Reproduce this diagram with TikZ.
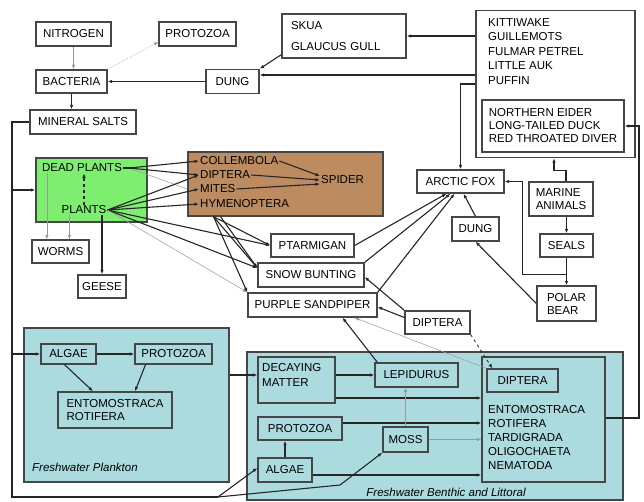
\documentclass[tikz,border=0pt]{standalone}
\usepackage{fontspec}
\setmainfont{Liberation Sans}
\usetikzlibrary{arrows.meta,positioning}

\definecolor{tundragreen}{RGB}{126,238,112}
\definecolor{soilbrown}{RGB}{188,140,96}
\definecolor{pondblue}{RGB}{172,219,223}
\definecolor{boxline}{RGB}{70,70,70}

\tikzset{
  box/.style={draw=boxline, line width=1.3pt, fill=white, inner sep=2pt,
    font=\fontsize{11.5}{13}\selectfont},
  area/.style={draw=boxline, line width=1.3pt},
  txt/.style={inner sep=1pt, font=\fontsize{11.5}{13}\selectfont},
  habitat/.style={inner sep=1pt, font=\fontsize{11.5}{13}\selectfont\itshape},
  feed/.style={->, line width=1.1pt, draw=black!85},
  faint/.style={->, line width=0.5pt, draw=black!40},
}

\begin{document}
\begin{tikzpicture}[x=1pt, y=-1pt, >={Latex[length=4.5pt,width=3.5pt]}]
        \useasboundingbox (0,0) rectangle (644,502);

        % habitats
        \node[area, fill=tundragreen, minimum width=111pt, minimum height=64pt] (greenbox) at (91.5,190) {};
        \node[area, fill=soilbrown, minimum width=195pt, minimum height=64pt] (soilfauna) at (285.5,184) {};
        \node[area, fill=pondblue, minimum width=205pt, minimum height=154pt] (plankton) at (126.5,405) {};
        \node[area, fill=pondblue, minimum width=376pt, minimum height=148pt] (benthic) at (435,426) {};
        \node[box, fill=white, minimum width=159pt, minimum height=147pt] (seabirds) at (555.5,84) {};
        \node[area, fill=pondblue, minimum width=123pt, minimum height=125pt] (bigbox) at (543.5,419.5) {};

        % top
        \node[box, minimum width=75pt, minimum height=24pt] (nitrogen) at (73.5,34) {NITROGEN};
        \node[box, minimum width=77pt, minimum height=24pt] (protozoaT) at (197.5,34) {PROTOZOA};
        \node[box, minimum width=71pt, minimum height=23pt] (bacteria) at (71.5,81.5) {BACTERIA};
        \node[box, minimum width=53pt, minimum height=24pt] (dungT) at (232.5,81.5) {DUNG};
        \node[box, minimum width=106pt, minimum height=24pt] (mineral) at (83,122) {MINERAL SALTS};
        \node[box, align=left, text width=106pt, minimum width=124pt, minimum height=44pt] (skua) at (344,36)
                {SKUA\\[8pt]GLAUCUS GULL};
        \node[txt, anchor=north west, align=left, font=\fontsize{11.5}{14.5}\selectfont] (seabirdlist) at (487,17)
                {KITTIWAKE\\GUILLEMOTS\\FULMAR PETREL\\LITTLE AUK\\PUFFIN};
        \node[box, align=left, minimum width=142pt, minimum height=52pt] (ducks) at (553,126)
                {NORTHERN EIDER\\LONG-TAILED DUCK\\RED THROATED DIVER};

        % tundra
        \node[txt] (deadplants) at (82,168) {DEAD PLANTS};
        \node[txt] (plants) at (84,210) {PLANTS};
        \node[box, minimum width=57pt, minimum height=23pt] (worms) at (60.5,251.5) {WORMS};
        \node[box, minimum width=48pt, minimum height=23pt] (geese) at (102,286.5) {GEESE};
        \node[txt, anchor=west] (collembola) at (199,161) {COLLEMBOLA};
        \node[txt, anchor=west] (dipteraS) at (199,175) {DIPTERA};
        \node[txt, anchor=west] (mites) at (199,189) {MITES};
        \node[txt, anchor=west] (hymenoptera) at (199,204) {HYMENOPTERA};
        \node[txt, anchor=west] (spider) at (320,180) {SPIDER};
        \node[box, minimum width=83pt, minimum height=23pt] (ptarmigan) at (312.5,245.5) {PTARMIGAN};
        \node[box, minimum width=106pt, minimum height=24pt] (snow) at (311,275) {SNOW BUNTING};
        \node[box, minimum width=129pt, minimum height=24pt] (sandpiper) at (312.5,305) {PURPLE SANDPIPER};
        \node[box, minimum width=65pt, minimum height=23pt] (dipteraM) at (437.5,322.5) {DIPTERA};
        \node[box, minimum width=87pt, minimum height=23pt] (arcticfox) at (460.5,181.5) {ARCTIC FOX};
        \node[box, minimum width=47pt, minimum height=24pt] (dungM) at (475.5,229) {DUNG};
        \node[box, align=left, minimum width=64pt, minimum height=34pt] (marine) at (561,199) {MARINE\\ANIMALS};
        \node[box, minimum width=53pt, minimum height=23pt] (seals) at (566.5,245.5) {SEALS};
        \node[box, align=left, minimum width=59pt, minimum height=35pt] (polar) at (566.5,303.5) {POLAR\\BEAR};

        % freshwater plankton
        \node[box, fill=pondblue, minimum width=55pt, minimum height=20pt] (algaeP) at (68.5,354) {ALGAE};
        \node[box, fill=pondblue, minimum width=77pt, minimum height=20pt] (protozoaP) at (173.5,354) {PROTOZOA};
        \node[box, fill=pondblue, align=left, minimum width=114pt, minimum height=36pt] (ento) at (115,410)
                {ENTOMOSTRACA\\ROTIFERA};
        \node[habitat, anchor=west] (planktonname) at (31,467) {Freshwater Plankton};

        % freshwater benthic
        \node[box, fill=pondblue, minimum width=77pt, minimum height=46pt] (decay) at (296.5,380) {};
        \node[txt, anchor=north west, align=left, font=\fontsize{11.5}{15}\selectfont] (decaytext) at (261,362)
                {DECAYING\\MATTER};
        \node[box, fill=pondblue, minimum width=83pt, minimum height=24pt] (lepidurus) at (416.5,375) {LEPIDURUS};
        \node[box, fill=pondblue, minimum width=71pt, minimum height=23pt] (dipteraB) at (522.5,380.5) {DIPTERA};
        \node[txt, anchor=north west, align=left, font=\fontsize{11.5}{14}\selectfont] (benthiclist) at (487,404)
                {ENTOMOSTRACA\\ROTIFERA\\TARDIGRADA\\OLIGOCHAETA\\NEMATODA};
        \node[box, fill=pondblue, minimum width=84pt, minimum height=23pt] (protozoaB) at (300,428.5) {PROTOZOA};
        \node[box, fill=pondblue, minimum width=45pt, minimum height=25pt] (moss) at (405.5,439.5) {MOSS};
        \node[box, fill=pondblue, minimum width=54pt, minimum height=24pt] (algaeB) at (285,470) {ALGAE};
        \node[habitat] (benthicname) at (446,492) {Freshwater Benthic and Littoral};

        \coordinate (railtop) at (12,122);
        \coordinate (railbot) at (12,497);
        \coordinate (railfork) at (218,497);
        \coordinate (mossbend) at (340,485);
        \coordinate (eastrail) at (639,418);

        % top links
        \draw[faint] (nitrogen.south) -- (nitrogen.south |- bacteria.north);
        \draw[faint, densely dotted] (bacteria.north east) -- ([yshift=-8pt]protozoaT.west);
        \draw[feed] (dungT.west) -- (bacteria.east);
        \draw[feed] (bacteria.south) -- (bacteria.south |- mineral.north);
        \draw[feed] ([yshift=4pt]skua.south west) -- (dungT.north east);
        \draw[feed] (seabirds.west |- skua.east) -- (skua.east);
        \draw[feed] (seabirds.west |- 0,75) -- (dungT.east |- 0,75);
        \draw[feed] (seabirds.west |- 0,84) -| (arcticfox.north);
        \draw[feed] ([xshift=5pt]marine.north) -- ++(0,-11) -| ([xshift=-1.5pt]seabirds.south);
        \draw[feed] (marine.south -| seals.north) -- (seals.north);
        \draw[feed] (seals.south) -- (polar.north);
        \draw[feed] ([yshift=11pt]polar.north) -| ([xshift=18pt]arcticfox.east) -- (arcticfox.east);
        \draw[feed] (polar.west) -- (dungM.south);
        \draw[feed] (dungM.north) -- ([xshift=3pt]arcticfox.south);

        % tundra links
        \draw[feed, -] (mineral.west) -- (railtop) -- (railbot) -- (railfork);
        \draw[feed] (railtop |- greenbox.west) -- (greenbox.west);
        \draw[feed] (railtop |- algaeP.west) -- (algaeP.west);
        \draw[feed, dashed] (plants.north) -- (plants.north |- deadplants.south);
        \draw[faint] ([xshift=6pt]deadplants.south west) -- ([xshift=6pt]deadplants.south west |- worms.north);
        \draw[faint] ([xshift=9pt]plants.south west) -- ([xshift=9pt]plants.south west |- worms.north);
        \draw[feed] (geese.north |- plants.south) -- (geese.north);
        \draw[faint, -] ([xshift=6pt]deadplants.east) -- (soilfauna.west |- mites.west);
        \draw[feed, -] (deadplants.east) -- ([xshift=8pt]deadplants.east);
        \draw[feed] ([xshift=6pt]deadplants.east) -- (collembola.west);
        \draw[feed] ([xshift=6pt]deadplants.east) -- (dipteraS.west);
        \draw[feed] (plants.east) -- (dipteraS.west);
        \draw[feed] (plants.east) -- (mites.west);
        \draw[feed] (plants.east) -- (hymenoptera.west);
        \draw[feed] (collembola.east) -- ([yshift=4pt]spider.west);
        \draw[feed] (dipteraS.east) -- (spider.west);
        \draw[feed] (mites.east) -- ([yshift=-4pt]spider.west);
        \draw[feed] (plants.east) -- (ptarmigan.west);
        \draw[feed] (plants.east) -- ([yshift=7pt]snow.west);
        \draw[faint] (plants.east) -- (sandpiper.north west);
        \draw[feed] ([xshift=-72pt]soilfauna.south) -- (ptarmigan.west);
        \draw[feed] ([xshift=-72pt]soilfauna.south) -- ([yshift=7pt]snow.west);
        \draw[feed] ([xshift=-72pt]soilfauna.south) -- (sandpiper.north west);
        \draw[feed] ([xshift=-65pt]soilfauna.south) -- ([yshift=7pt]snow.west);
        \draw[feed] (ptarmigan.east) -- ([xshift=-14pt]arcticfox.south);
        \draw[feed] (snow.north east) -- ([xshift=-10pt]arcticfox.south);
        \draw[feed] (sandpiper.north east) -- ([xshift=-6pt]arcticfox.south);
        \draw[feed] (dipteraM.north west) -- ([yshift=-2pt]snow.east);
        \draw[feed] ([yshift=5pt]dipteraM.west) -- ([yshift=-2pt]sandpiper.east);
        \draw[feed, dashed, line width=0.8pt] (dipteraM.south east) -- ([xshift=6pt]dipteraB.north west);
        \draw[faint] (dipteraB.north west) -- ([xshift=42pt]sandpiper.south);
        \draw[feed] ([xshift=3pt]lepidurus.north west) -- ([xshift=30pt]sandpiper.south);

        % plankton links
        \draw[feed] (algaeP.east) -- (protozoaP.west);
        \draw[feed] ([xshift=-4pt]algaeP.south) -- ([xshift=-22pt]ento.north);
        \draw[feed] ([xshift=-28pt]protozoaP.south) -- ([xshift=20pt]ento.north);
        \draw[feed] (plankton.east |- 0,375) -- (decay.west |- 0,375);

        % benthic links
        \draw[feed] (railfork) -- ([yshift=2pt]algaeB.west);
        \draw[feed] (railfork) -- (mossbend) -- (moss.south west);
        \draw[feed] (decay.east |- lepidurus.west) -- (lepidurus.west);
        \draw[feed] (decay.east |- 0,398) -- (bigbox.west |- 0,398);
        \draw[feed] (protozoaB.east |- 0,423) -- (bigbox.west |- 0,423);
        \draw[faint] (moss.east) -- (bigbox.west |- moss.east);
        \draw[feed] (algaeB.east |- 0,475) -- (bigbox.west |- 0,475);
        \draw[feed] (algaeB.north) -- (algaeB.north |- protozoaB.south);
        \draw[faint] (moss.north) -- (moss.north |- lepidurus.south);
        \draw[feed] (bigbox.east |- eastrail) -- (eastrail) |- (ducks.east);
\end{tikzpicture}
\end{document}
